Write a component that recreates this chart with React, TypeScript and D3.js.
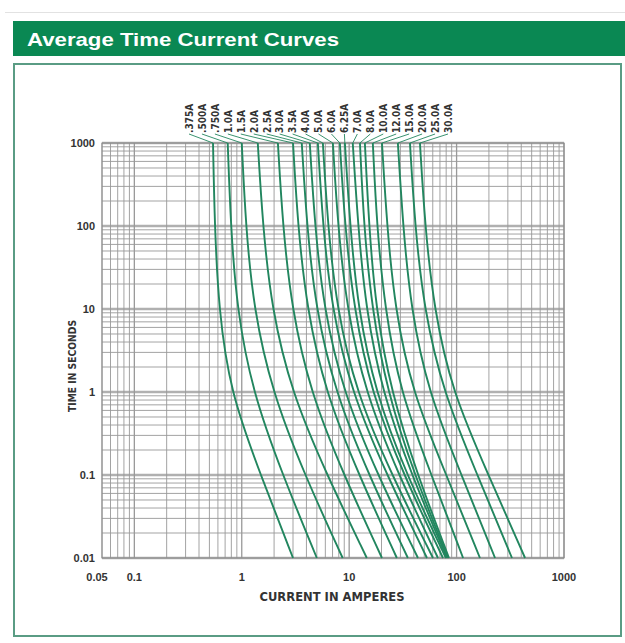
import React from 'react';
import * as d3 from 'd3';

// Times (seconds) at which each curve's current was read
const TIMES = [1000, 100, 10, 1, 0.1, 0.01];

// Fuse ratings (curve labels), left to right
const RATINGS = [
  '.375A', '.500A', '.750A', '1.0A', '1.5A', '2.0A', '2.5A', '3.0A', '3.5A', '4.0A',
  '5.0A', '6.0A', '6.25A', '7.0A', '8.0A', '10.0A', '12.0A', '15.0A', '20.0A', '25.0A', '30.0A',
];

// Current (A) at each of TIMES, one row per rating
const CURRENTS: number[][] = [
  [0.54, 0.56, 0.61, 0.78, 1.5, 3.0],
  [0.74, 0.79, 0.9, 1.26, 2.4, 5.0],
  [1.0, 1.09, 1.29, 1.92, 3.85, 8.7],
  [1.41, 1.57, 1.9, 2.9, 6.2, 14.6],
  [2.17, 2.41, 2.92, 4.35, 8.9, 20.2],
  [3.0, 3.33, 4.04, 6.0, 12.3, 27.8],
  [3.62, 4.04, 4.89, 7.4, 15.2, 35.2],
  [4.3, 4.79, 5.81, 8.8, 18.4, 43.7],
  [5.11, 5.69, 6.9, 10.5, 22.4, 53.0],
  [5.69, 6.33, 7.68, 11.6, 24.9, 60.3],
  [7.05, 7.85, 9.52, 14.1, 28.8, 67.1],
  [8.19, 9.12, 11.1, 16.0, 32.1, 74.7],
  [9.12, 10.2, 12.1, 17.5, 34.2, 79.6],
  [10.8, 12.1, 14.3, 20.3, 38.0, 81.4],
  [12.6, 13.7, 16.3, 22.6, 40.5, 83.2],
  [14.0, 15.3, 17.7, 24.6, 43.2, 85.0],
  [16.6, 18.1, 21.5, 29.9, 58.2, 115],
  [20.2, 22.5, 26.7, 38.6, 80.3, 165],
  [28.4, 31.7, 37.6, 54.4, 111, 228],
  [36.8, 41.0, 49.7, 75.0, 156, 328],
  [45.6, 50.8, 61.6, 91.0, 198, 434],
];

const X_TICKS = [0.05, 0.1, 1, 10, 100, 1000];
const X_TICK_LABELS = ['0.05', '0.1', '1', '10', '100', '1000'];
const Y_TICKS = [0.01, 0.1, 1, 10, 100, 1000];
const Y_TICK_LABELS = ['0.01', '0.1', '1', '10', '100', '1000'];

const TITLE = 'Average Time Current Curves';
const X_TITLE = 'CURRENT IN AMPERES';
const Y_TITLE = 'TIME IN SECONDS';

const W = 625;
const H = 643;
const PL = 102, PR = 564, PT = 143, PB = 558;

const SANS = "'Liberation Sans', Arial, Helvetica, sans-serif";
const COND = "'Liberation Sans Narrow', 'DejaVu Sans Condensed', 'Arial Narrow', sans-serif";

const GREEN = '#0a8853';
const CURVE = '#22865f';
const GRID = '#999999';
const INK = '#333333';

function logSteps(lo: number, hi: number): number[] {
  const out: number[] = [];
  for (let e = -3; e <= 3; e++) {
    for (let k = 1; k <= 9; k++) {
      const v = +(k * Math.pow(10, e)).toPrecision(6);
      if (v >= lo * 0.9999 && v <= hi * 1.0001) out.push(v);
    }
  }
  return out;
}

const isDecade = (v: number) => Math.abs(Math.log10(v) - Math.round(Math.log10(v))) < 1e-6;

export default function App() {
  const x = d3.scaleLog().domain([0.05, 1000]).range([PL, PR]);
  const y = d3.scaleLog().domain([0.01, 1000]).range([PB, PT]);

  const line = d3
    .line<[number, number]>()
    .x((d) => x(d[0]))
    .y((d) => y(d[1]))
    .curve(d3.curveBasis);

  const vGrid = logSteps(0.05, 1000);
  const hGrid = logSteps(0.01, 1000);

  const labelScale = d3
    .scalePoint<string>()
    .domain(RATINGS)
    .range([189, 448]);

  return (
    <svg
      width={W}
      height={H}
      viewBox={`0 0 ${W} ${H}`}
      style={{ position: 'absolute', left: 0, top: 0, background: '#fff' }}
    >
      <rect x={0} y={0} width={W} height={H} fill="#ffffff" />
      <line x1={5} x2={W} y1={12.5} y2={12.5} stroke="#e2e2e2" strokeWidth={1} />

      {/* header */}
      <rect x={13} y={21} width={W - 13} height={35} fill={GREEN} />
      <text
        x={27}
        y={45.5}
        fill="#fff"
        fontFamily={SANS}
        fontWeight={700}
        fontSize={19}
        textLength={312}
        lengthAdjust="spacingAndGlyphs"
      >
        {TITLE}
      </text>

      {/* framed box */}
      <rect x={14} y={64} width={607} height={572} fill="none" stroke="#5a9c84" strokeWidth={2} />

      {/* grid */}
      <g>
        {hGrid.map((v, i) => (
          <line
            key={'h' + i}
            x1={PL}
            x2={PR}
            y1={y(v)}
            y2={y(v)}
            stroke={isDecade(v) ? '#b0b0b0' : GRID}
            strokeWidth={isDecade(v) ? 2.5 : 0.9}
          />
        ))}
        {vGrid.map((v, i) => (
          <line
            key={'v' + i}
            x1={x(v)}
            x2={x(v)}
            y1={PT}
            y2={PB}
            stroke={GRID}
            strokeWidth={isDecade(v) ? 1.3 : 0.9}
          />
        ))}
        <rect x={PL} y={PT} width={PR - PL} height={PB - PT} fill="none" stroke="#8a8a8a" strokeWidth={1} />
      </g>

      {/* curves */}
      <g fill="none" stroke={CURVE} strokeWidth={1.9}>
        {CURRENTS.map((row, i) => {
          const pts: [number, number][] = row.map((c, j) => [c, TIMES[j]]);
          return <path key={'c' + i} d={line(pts) || ''} />;
        })}
      </g>

      {/* leaders + rating labels */}
      <g>
        {RATINGS.map((r, i) => {
          const lx = labelScale(r) as number;
          const cx = x(CURRENTS[i][0]);
          return (
            <g key={'l' + i}>
              <line x1={lx} y1={134} x2={cx} y2={PT} stroke={CURVE} strokeWidth={0.9} />
              <text
                transform={`translate(${lx + 3.8},${133}) rotate(-90)`}
                fontFamily={COND}
                fontWeight={700}
                fontSize={10}
                fill={INK}
              >
                {r}
              </text>
            </g>
          );
        })}
      </g>

      {/* tick labels */}
      <g fontFamily={SANS} fontWeight={700} fontSize={11} fill={INK}>
        {Y_TICKS.map((v, i) => (
          <text key={'yt' + i} x={95} y={y(v) + 4} textAnchor="end">
            {Y_TICK_LABELS[i]}
          </text>
        ))}
        {X_TICKS.map((v, i) => (
          <text key={'xt' + i} x={x(v) - (i === 0 ? 5 : 0)} y={581} textAnchor="middle">
            {X_TICK_LABELS[i]}
          </text>
        ))}
      </g>

      {/* axis titles */}
      <text
        x={332}
        y={601}
        textAnchor="middle"
        fontFamily={COND}
        fontWeight={700}
        fontSize={11.5}
        fill={INK}
        textLength={145}
        lengthAdjust="spacingAndGlyphs"
      >
        {X_TITLE}
      </text>
      <text
        transform={`translate(76,366) rotate(-90)`}
        textAnchor="middle"
        fontFamily={COND}
        fontWeight={700}
        fontSize={10.5}
        fill={INK}
        textLength={92}
        lengthAdjust="spacingAndGlyphs"
      >
        {Y_TITLE}
      </text>
    </svg>
  );
}
